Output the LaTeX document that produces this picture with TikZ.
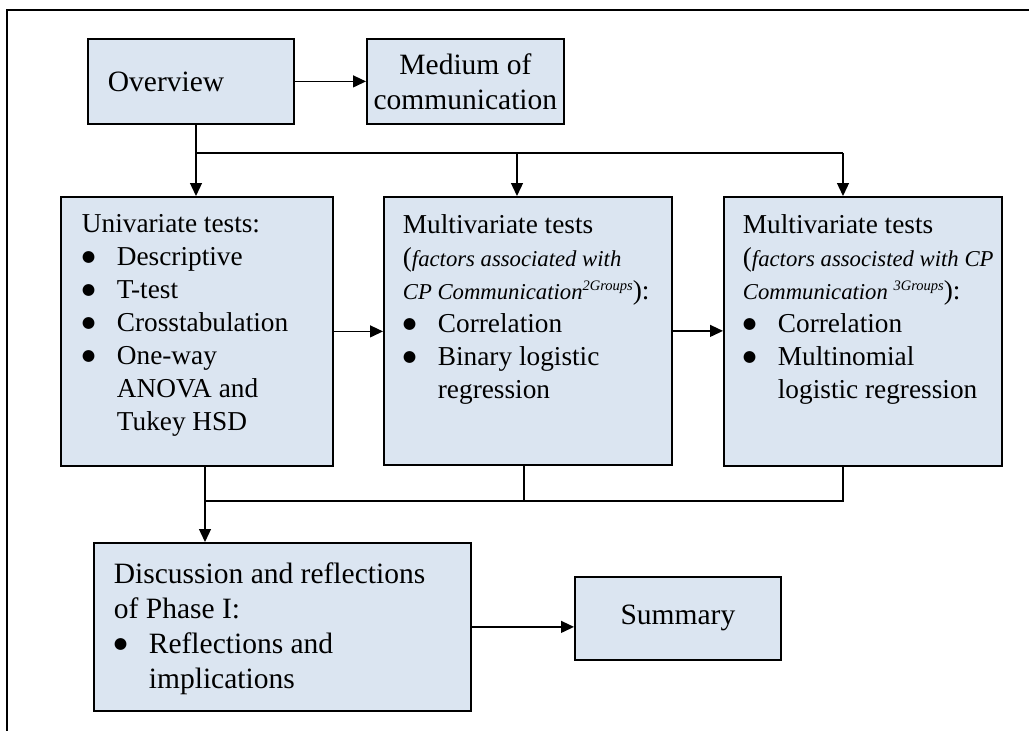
\documentclass[tikz,border=0pt]{standalone}
\usepackage{fontspec}
\setmainfont{Liberation Serif}
\newfontfamily\dotfont{DejaVu Sans}
\usetikzlibrary{arrows.meta}
\definecolor{boxfill}{HTML}{DBE5F1}

% type sizes
\newcommand\bodyfont{\fontsize{27.3}{33}\selectfont}
\newcommand\bigfont{\fontsize{29.5}{35}\selectfont}
\newcommand\notefont{\fontsize{22.7}{33}\selectfont\itshape}
\newcommand\sups[1]{\raisebox{0.42em}{\fontsize{14.5}{14}\selectfont #1}}
% list bullets with a hanging indent
\newcommand\bul{\makebox[35pt][l]{\raisebox{4.5pt}{\dotfont\fontsize{15.5}{16}\selectfont ●}}}
\newcommand\hang{\hspace*{35pt}}
% top-aligned box body: width, height, left indent, text
\newcommand\boxbody[4]{\begin{minipage}[t][#2][t]{#1}\raggedright\leftskip=#3\relax #4\end{minipage}}

\tikzset{
  box/.style={draw=black, line width=1.8pt, fill=boxfill, anchor=north west},
  listbox/.style={box, inner xsep=0pt, inner ysep=#1},
  conn/.style={draw=black, line width=1.3pt},
  arr/.style={conn, -{Triangle[length=13pt,width=12pt]}},
  frame/.style={draw=black, line width=2pt}
}

\begin{document}
\begin{tikzpicture}[x=1pt,y=-1pt]
\useasboundingbox (0,0) rectangle (1029,731);
\fill[white] (0,0) rectangle (1029,731);

% page frame (top and left rules)
\draw[frame] (1029,10) -- (7,10) -- (7,731);

% top row
\node[box, minimum width=206pt, minimum height=85pt, text width=166pt,
      inner xsep=20pt, align=left, font=\bigfont] (ov) at (87,38) {Overview};
\node[box, minimum width=197pt, minimum height=85pt, inner sep=0pt,
      align=center, font=\bigfont] (med) at (366,38) {Medium of\\communication};

% analysis boxes
\node[listbox=17.7pt] (uni) at (60,196) {\boxbody{272pt}{233.6pt}{21pt}{\bodyfont
  Univariate tests:\\
  \bul Descriptive\\
  \bul T-test\\
  \bul Crosstabulation\\
  \bul One-way\\
  \hang ANOVA and\\
  \hang Tukey HSD}};

\node[listbox=17.7pt] (mva) at (383,196) {\boxbody{288pt}{232.6pt}{19pt}{\bodyfont
  Multivariate tests\\
  ({\notefont factors associated with}\\
  {\notefont CP Communication\sups{2Groups}}):\\
  \bul Correlation\\
  \bul Binary logistic\\
  \hang regression}};

\node[listbox=17.7pt] (mvb) at (723,196) {\boxbody{278pt}{233.6pt}{19pt}{\bodyfont
  Multivariate tests\\
  ({\notefont factors associsted with CP}\\
  {\notefont Communication \sups{3Groups}}):\\
  \bul Correlation\\
  \bul Multinomial\\
  \hang logistic regression}};

% bottom row
\node[listbox=19.6pt] (disc) at (93,542) {\boxbody{377pt}{128.8pt}{20pt}{\bigfont
  Discussion and reflections\\
  of Phase I:\\
  \bul Reflections and\\
  \hang implications}};
\node[box, minimum width=206pt, minimum height=83pt, inner sep=0pt,
      font=\bigfont] (sum) at (574,576) {Summary};

% junction points of the connector bus lines
\coordinate (split) at (196,153);
\coordinate (toa) at (517,153);
\coordinate (tob) at (843,153);
\coordinate (join) at (205,501);
\coordinate (froma) at (524,501);
\coordinate (fromb) at (843,501);

% connectors
\draw[arr] (ov.east) -- (med.west |- ov.east);
\draw[arr] (ov.south -| split) -- (uni.north -| split);
\draw[conn] (split) -- (tob);
\draw[arr] (toa) -- (mva.north -| toa);
\draw[arr] (tob) -- (mvb.north -| tob);
\draw[arr] (uni.east) -- (mva.west |- uni.east);
\draw[arr] (mva.east) -- (mvb.west |- mva.east);

\draw[conn] (uni.south -| join) -- (join) -- (fromb) -- (mvb.south -| fromb);
\draw[conn] (mva.south -| froma) -- (froma);
\draw[arr] (join) -- (disc.north -| join);
\draw[arr] (disc.east) -- (sum.west |- disc.east);
\end{tikzpicture}
\end{document}
